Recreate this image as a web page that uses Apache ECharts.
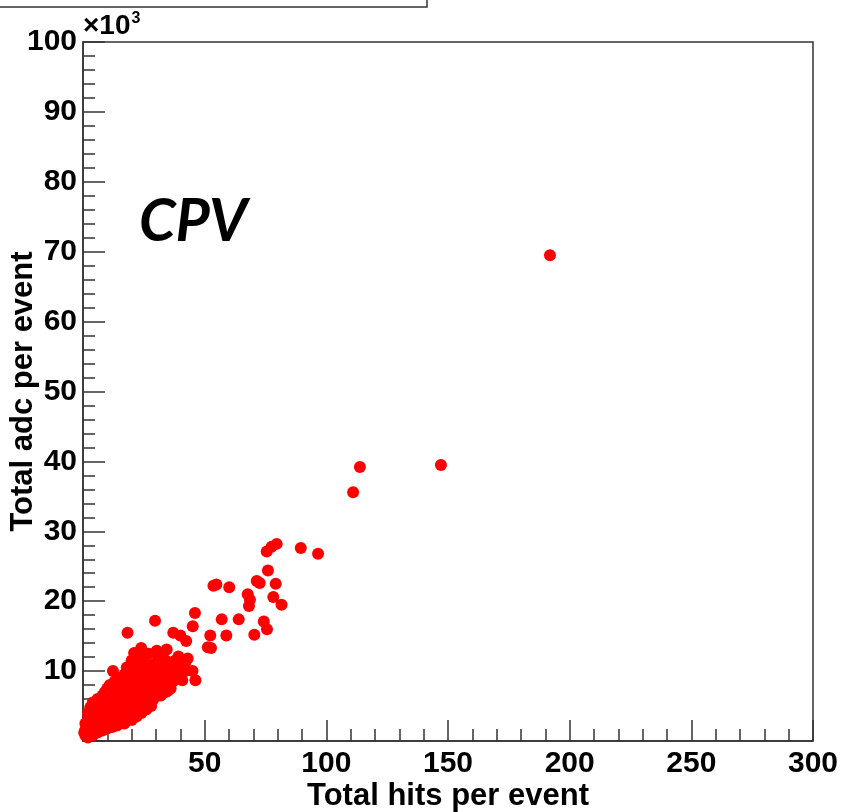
<!DOCTYPE html>
<html>
<head>
<meta charset="utf-8">
<script src="https://cdn.jsdelivr.net/npm/echarts@6/dist/echarts.min.js"></script>
<style>
  html, body { margin: 0; padding: 0; background: #fff; }
  #chart { width: 842px; height: 812px; }
</style>
</head>
<body>
<div id="chart"></div>
<script>
  // axis ranges and labels (adc in units of 10^3)
  const xTicks = [0, 50, 100, 150, 200, 250, 300];
  const yTicks = [0, 10, 20, 30, 40, 50, 60, 70, 80, 90, 100];

  // dense part of the distribution: [hits, adc/1000]
  const denseCore = [
    [0.5, 1.2], [1, 0.8], [1, 1.6], [1, 2.5], [2, 0.5], [2, 1.2], [2, 3.0], [2, 4.0],
    [3, 1.2], [3, 2.0], [3, 3.5], [3, 4.8], [4, 0.8], [4, 2.5], [4, 4.0], [4, 5.5],
    [5, 1.5], [5, 3.0], [5, 4.5], [6, 1.2], [6, 2.2], [6, 3.5], [6, 5.0], [6, 6.0],
    [7, 2.8], [7, 4.2], [7, 5.5], [8, 1.5], [8, 2.0], [8, 3.5], [8, 5.0], [8, 6.5],
    [9, 2.5], [9, 4.0], [9, 6.0], [9, 7.0], [10, 1.8], [10, 3.0], [10, 4.5], [10, 5.5], [10, 7.5],
    [11, 2.2], [11, 3.5], [11, 5.0], [11, 6.5], [11, 8.0], [12, 2.0], [12, 4.0], [12, 6.0], [12, 7.0],
    [13, 2.5], [13, 3.0], [13, 4.8], [13, 5.5], [13, 7.5], [13, 8.5],
    [14, 2.2], [14, 3.8], [14, 6.2], [14, 8.0], [15, 2.8], [15, 4.5], [15, 5.5], [15, 7.0], [15, 9.0],
    [16, 3.2], [16, 5.0], [16, 6.5], [16, 8.5], [17, 2.5], [17, 4.0], [17, 6.0], [17, 7.5], [17, 9.5],
    [18, 3.0], [18, 5.0], [18, 7.0], [18, 8.0], [18, 10.5], [19, 3.5], [19, 4.5], [19, 6.0], [19, 8.5], [19, 10.0],
    [20, 3.0], [20, 5.5], [20, 7.0], [20, 9.0], [20, 11.5], [21, 4.0], [21, 6.5], [21, 8.0], [21, 10.0], [21, 12.6],
    [22, 3.5], [22, 5.0], [22, 7.5], [22, 9.5], [22, 11.0], [23, 4.5], [23, 6.0], [23, 8.5], [23, 10.5], [23, 12.0],
    [24, 4.0], [24, 5.5], [24, 7.0], [24, 9.0], [24, 11.5], [24, 12.8],
    [25, 5.0], [25, 6.5], [25, 8.0], [25, 10.0], [25, 12.5], [26, 4.5], [26, 6.0], [26, 7.5], [26, 9.5], [26, 11.0],
    [27, 5.5], [27, 7.0], [27, 9.0], [27, 10.5], [27, 12.5], [28, 5.0], [28, 6.5], [28, 8.5], [28, 10.0],
    [29, 6.0], [29, 7.5], [29, 9.5], [29, 11.0], [30.3, 12.9], [30, 6.5], [30, 8.0], [30, 9.0], [30, 11.0],
    [31, 7.0], [31, 8.5], [31, 10.0], [31, 12.0], [32, 6.5], [32, 8.0], [32, 9.5], [32, 11.0], [32, 12.6],
    [33, 7.5], [33, 9.0], [33, 10.5], [34.4, 13.1], [34, 7.0], [34, 8.5], [34, 10.0], [34, 11.5],
    [35, 8.0], [35, 9.5], [35, 11.0], [36, 7.5], [36, 9.0], [36, 10.5], [37, 8.5], [37, 10.0], [37, 11.0],
    [38, 9.0], [38, 10.5], [38, 11.5], [39.2, 12.1], [40, 9.5], [40, 11.0], [42, 10.0], [42, 11.2], [43, 11.8]
  ];

  // sparse tail of high-multiplicity events: [hits, adc/1000]
  const sparseTail = [
    [191.9, 69.5], [147.1, 39.5], [113.8, 39.2], [111.0, 35.6], [96.6, 26.8], [89.5, 27.6],
    [79.6, 28.2], [77.5, 27.8], [75.5, 27.1], [76.0, 24.4], [71.4, 22.9], [72.6, 22.6],
    [79.2, 22.5], [53.6, 22.2], [54.8, 22.4], [60.1, 22.0], [67.7, 21.0], [68.6, 20.2],
    [68.2, 19.3], [78.2, 20.6], [81.6, 19.5], [46.0, 18.3], [45.1, 16.4], [29.6, 17.2],
    [57.0, 17.4], [64.0, 17.4], [74.3, 17.1], [75.6, 16.0], [70.4, 15.2], [58.9, 15.1],
    [52.3, 15.1], [52.6, 13.3], [51.3, 13.4], [18.3, 15.5], [37.1, 15.5], [40.0, 15.1],
    [42.4, 14.3], [23.9, 13.3], [12.3, 10.0], [45.0, 10.0], [46.2, 8.7], [40.8, 8.7], [34.9, 7.2]
  ];

  const labelFont = 'Liberation Sans, Arial, sans-serif';
  const frameColor = '#333';

  const chart = echarts.init(document.getElementById('chart'));
  chart.setOption({
    animation: false,
    backgroundColor: '#fff',
    grid: {
      left: 83, right: 29, top: 42, bottom: 71,
      containLabel: false,
      outerBoundsMode: 'none',
      show: true,
      borderColor: frameColor,
      borderWidth: 1.5
    },
    xAxis: {
      type: 'value',
      min: xTicks[0],
      max: xTicks[xTicks.length - 1],
      interval: 50,
      name: 'Total hits per event',
      nameLocation: 'middle',
      nameMoveOverlap: false,
      nameGap: 40,
      nameTextStyle: { fontFamily: labelFont, fontWeight: 'bold', fontSize: 31, color: '#000' },
      axisLine: { lineStyle: { color: frameColor, width: 1.5 } },
      axisTick: { inside: true, length: 21, lineStyle: { color: frameColor, width: 1.5 } },
      minorTick: { show: true, splitNumber: 5, length: 12, lineStyle: { color: frameColor, width: 1.5 } },
      axisLabel: {
        showMinLabel: false,
        margin: 8,
        fontFamily: labelFont, fontWeight: 'bold', fontSize: 30, color: '#000'
      },
      splitLine: { show: false }
    },
    yAxis: {
      type: 'value',
      min: yTicks[0],
      max: yTicks[yTicks.length - 1],
      interval: 10,
      name: 'Total adc per event',
      nameLocation: 'middle',
      nameMoveOverlap: false,
      nameGap: 44,
      nameTextStyle: { fontFamily: labelFont, fontWeight: 'bold', fontSize: 31, color: '#000' },
      axisLine: { lineStyle: { color: frameColor, width: 1.5 } },
      axisTick: { inside: true, length: 22, lineStyle: { color: frameColor, width: 1.5 } },
      minorTick: { show: true, splitNumber: 5, length: 12, lineStyle: { color: frameColor, width: 1.5 } },
      axisLabel: {
        showMinLabel: false,
        margin: 6,
        fontFamily: labelFont, fontWeight: 'bold', fontSize: 30, color: '#000'
      },
      splitLine: { show: false }
    },
    graphic: [
      {
        type: 'rect',
        shape: { x: -2, y: -4, width: 429, height: 11 },
        style: { fill: '#fff', stroke: frameColor, lineWidth: 1.5 }
      },
      {
        type: 'text',
        x: 83, y: 41,
        style: {
          text: '×10{sup|3}',
          fontFamily: labelFont, fontWeight: 'bold', fontSize: 28, fill: '#000',
          verticalAlign: 'bottom',
          rich: { sup: { fontSize: 16, fontWeight: 'bold', fontFamily: labelFont, padding: [0, 0, 14, 1] } }
        }
      },
      {
        type: 'text',
        x: 139, y: 222,
        style: {
          text: 'CPV',
          fontFamily: 'Lato, "Open Sans", sans-serif',
          fontWeight: 'bold', fontStyle: 'italic', fontSize: 59, fill: '#000',
          verticalAlign: 'middle'
        }
      }
    ],
    series: [
      {
        type: 'scatter',
        symbol: 'circle',
        symbolSize: 12,
        itemStyle: { color: '#ff0000', opacity: 1 },
        data: denseCore.concat(sparseTail)
      }
    ]
  });
</script>
</body>
</html>
